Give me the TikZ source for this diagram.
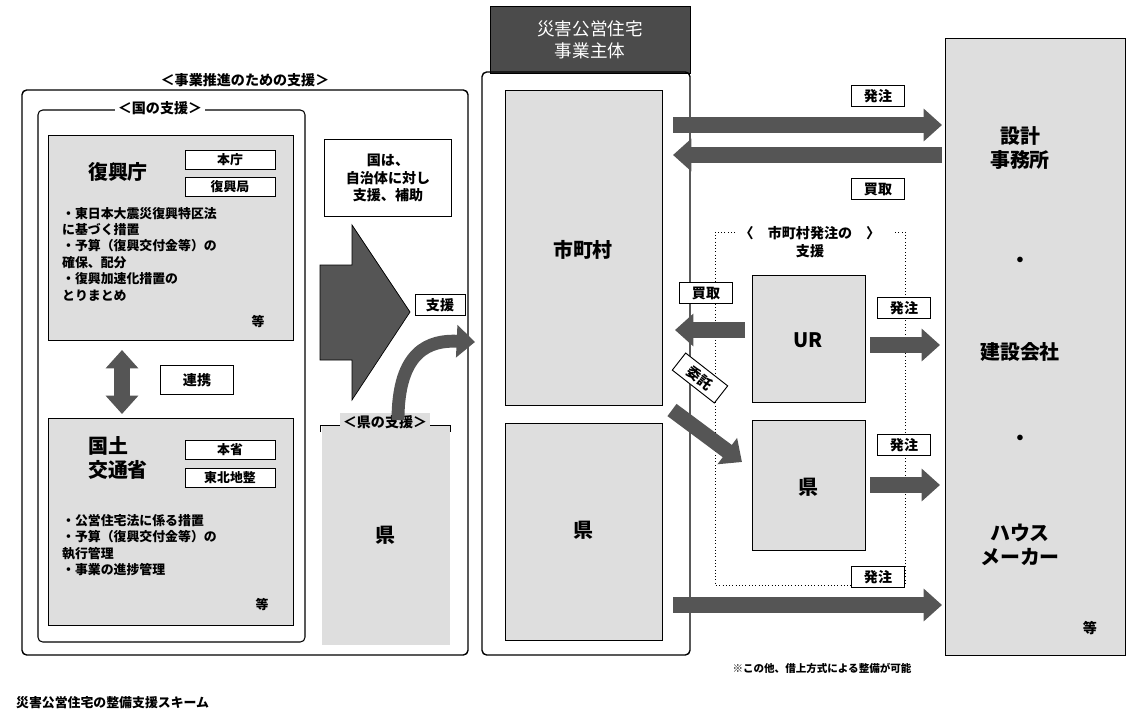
\documentclass[tikz,border=0pt]{standalone}
\usepackage{fontspec}
\setmainfont{Noto Sans CJK JP}
\usetikzlibrary{arrows.meta,positioning,calc}
\definecolor{BoxGray}{RGB}{222,222,222}
\definecolor{ArrowGray}{RGB}{85,85,85}
\definecolor{HeadGray}{RGB}{75,75,75}
\newcommand{\bigtext}{\fontsize{17}{21}\selectfont\bfseries}
\newcommand{\midtext}{\fontsize{12}{15}\selectfont\bfseries}
\newcommand{\smalltext}{\fontsize{11}{14}\selectfont\bfseries}

\begin{document}
\begin{tikzpicture}[
    x=0.03cm, y=-0.03cm,
    panel/.style={draw, line width=1.2pt, rounded corners=4pt},
    graybox/.style={draw, thick, fill=BoxGray},
    tagbox/.style={draw, thick, fill=white, font=\midtext, inner sep=2pt,
                   minimum width=1.6cm, minimum height=0.65cm},
    fatarrow/.style={draw=black, fill=ArrowGray, line width=0.6pt},
    fatline/.style={ArrowGray, line width=13pt, -{Triangle[length=0.55cm,width=0.95cm]}},
    title/.style={fill=white, font=\midtext, inner sep=2pt}
]
\useasboundingbox (0,0) rectangle (1135,727);

% left panel: support for the project
\draw[panel] (22,90) rectangle (468,655);
\node[title] (ttlproj) at (245,80) {＜事業推進のための支援＞};
\draw[panel, line width=0.9pt] (38,110) rectangle (305,642);
\node[title] (ttlkuni) at (160,108) {＜国の支援＞};

% reconstruction agency
\draw[graybox] (48,135) rectangle (293,340);
\node[font=\bigtext] (fukko) at (118,172) {復興庁};
\node[tagbox, font=\smalltext, minimum width=2.7cm, minimum height=0.55cm] (honcho) at (230,160) {本庁};
\node[tagbox, font=\smalltext, minimum width=2.7cm, minimum height=0.55cm] (fukkokyoku) at (230,187) {復興局};
\node[font=\smalltext, align=left, anchor=north west] (fukkotext) at (58,203)
  {・東日本大震災復興特区法\\ に基づく措置\\・予算（復興交付金等）の\\ 確保、配分\\・復興加速化措置の\\ とりまとめ};
\node[font=\smalltext] (fukkoetc) at (258,322) {等};

% link
\draw[fatline, {Triangle[length=0.55cm,width=0.95cm]}-{Triangle[length=0.55cm,width=0.95cm]}]
  (122,350) -- (122,414);
\node[tagbox, minimum height=0.85cm, minimum width=2.2cm] (renkei) at (197,380) {連携};

% MLIT
\draw[graybox] (48,418) rectangle (293,625);
\node[font=\bigtext, align=left] (kokudo) at (118,458) {国土\\交通省};
\node[tagbox, font=\smalltext, minimum width=2.7cm, minimum height=0.55cm] (honsho) at (230,450) {本省};
\node[tagbox, font=\smalltext, minimum width=2.7cm, minimum height=0.55cm] (tohoku) at (230,478) {東北地整};
\node[font=\smalltext, align=left, anchor=north west] (kokudotext) at (58,510)
  {・公営住宅法に係る措置\\・予算（復興交付金等）の\\ 執行管理\\・事業の進捗管理};
\node[font=\smalltext] (kokudoetc) at (262,605) {等};

% national -> municipalities
\node[draw, thick, font=\midtext, align=center, minimum width=3.8cm, minimum height=2.3cm]
  (kuniha) at (388,178) {国は、\\自治体に対し\\支援、補助};
\draw[fatarrow] (320,265) -- (352,265) -- (352,225) -- (410,312) -- (352,400)
  -- (352,360) -- (320,360) -- cycle;

% prefectural support
\draw[graybox, draw=none] (322,425) rectangle (450,645);
\draw[thick] (320,432) -- (320,425) -- (450,425) -- (450,432);
\node[title, fill=BoxGray] (ttlken) at (385,422) {＜県の支援＞};
\node[font=\bigtext] (kenleft) at (385,535) {県};
\draw[fatline, line width=11pt] (398,420) .. controls (398,350) and (430,340) .. (475,342);
\node[tagbox, minimum width=1.5cm] (shien) at (440,305) {支援};

% project body
\node[draw, thick, fill=HeadGray, text=white, font=\fontsize{15}{19}\selectfont,
      align=center, minimum width=6cm, minimum height=2cm] (jigyo) at (590,40)
  {災害公営住宅\\事業主体};
\draw[panel] (482,72) rectangle (690,655);
\draw[graybox] (505,90) rectangle (662,405);
\node[font=\bigtext] (shicho) at (583,250) {市町村};
\draw[graybox] (505,423) rectangle (662,640);
\node[font=\bigtext] (kencenter) at (583,530) {県};

% contractors
\draw[graybox] (945,38) rectangle (1125,655);
\node[font=\bigtext, align=center] (sekkei) at (1020,148) {設計\\事務所};
\node[font=\bigtext] (dot1) at (1020,262) {・};
\node[font=\bigtext] (kensetsu) at (1020,352) {建設会社};
\node[font=\bigtext] (dot2) at (1020,440) {・};
\node[font=\bigtext, align=center] (house) at (1020,545) {ハウス\\メーカー};
\node[font=\midtext] (etc) at (1090,628) {等};

% top orders / purchase
\draw[fatline] (673,125) -- (942,125);
\node[tagbox] (hatchu1) at (878,96) {発注};
\draw[fatline] (942,155) -- (673,155);
\node[tagbox] (kaitori1) at (878,189) {買取};

% support for municipal orders
\draw[thick, dotted] (735,232) -- (715,232) -- (715,585) -- (905,585) -- (905,232) -- (895,232);
\node[font=\midtext, align=center] (ttlshicho) at (810,242) {〈　市町村発注の　〉\\支援};
\draw[graybox] (752,275) rectangle (865,402);
\node[font=\bigtext] (ur) at (808,340) {UR};
\draw[graybox] (752,420) rectangle (865,550);
\node[font=\bigtext] (kenright) at (808,487) {県};

\draw[fatline] (745,330) -- (675,330);
\node[tagbox] (kaitori2) at (706,293) {買取};
\draw[fatline] (672,410) -- (742,462);
\node[tagbox, rotate=-38] (itaku) at (700,378) {委託};
\draw[fatline] (870,345) -- (940,345);
\node[tagbox] (hatchu2) at (904,308) {発注};
\draw[fatline] (870,485) -- (940,485);
\node[tagbox] (hatchu3) at (904,445) {発注};

% bottom order
\draw[fatline] (673,605) -- (942,605);
\node[tagbox] (hatchu4) at (878,577) {発注};

% notes
\node[font=\fontsize{9}{11}\selectfont\bfseries] (note) at (822,668) {※この他、借上方式による整備が可能};
\node[font=\smalltext, anchor=west] (caption) at (12,703) {災害公営住宅の整備支援スキーム};
\end{tikzpicture}
\end{document}
